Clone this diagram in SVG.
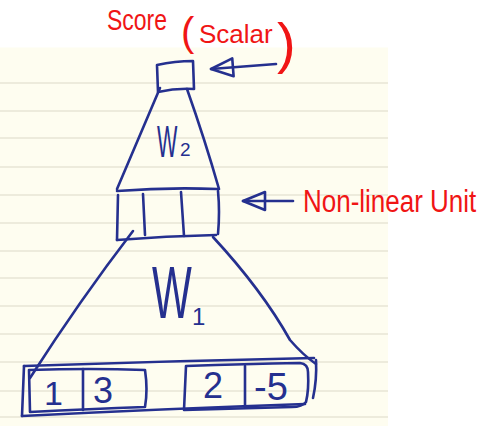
<svg xmlns="http://www.w3.org/2000/svg" width="482" height="426" viewBox="0 0 482 426">
  <defs>
    <style>
      .ink { fill: none; stroke: #25308f; stroke-width: 2.6; stroke-linecap: round; stroke-linejoin: round; }
      .rule { stroke: #e7e5d6; stroke-width: 1.6; }
      .blue { fill: #25308f; font-family: "Liberation Sans", Arial, sans-serif; }
      .red { fill: #f01515; font-family: "Liberation Sans", Arial, sans-serif; }
    </style>
    <marker id="openhead" markerUnits="userSpaceOnUse" markerWidth="28" markerHeight="24" viewBox="0 0 28 24" refX="25" refY="12" orient="auto">
      <path d="M3,3 L25,12 L3,21 Z" fill="none" stroke="#25308f" stroke-width="2.6" stroke-linejoin="round"/>
    </marker>
  </defs>

  <!-- background and lined paper -->
  <rect x="0" y="0" width="482" height="426" fill="#ffffff"/>
  <rect x="0" y="47.5" width="388" height="378.5" fill="#fefdf0"/>
  <g id="paper-rules">
    <line class="rule" x1="0" y1="83" x2="388" y2="83"/>
    <line class="rule" x1="0" y1="111" x2="388" y2="111"/>
    <line class="rule" x1="0" y1="138" x2="388" y2="138"/>
    <line class="rule" x1="0" y1="167" x2="388" y2="167"/>
    <line class="rule" x1="0" y1="195" x2="388" y2="195"/>
    <line class="rule" x1="0" y1="223" x2="388" y2="223"/>
    <line class="rule" x1="0" y1="251" x2="388" y2="251"/>
    <line class="rule" x1="0" y1="278" x2="388" y2="278"/>
    <line class="rule" x1="0" y1="306" x2="388" y2="306"/>
    <line class="rule" x1="0" y1="334" x2="388" y2="334"/>
    <line class="rule" x1="0" y1="362" x2="388" y2="362"/>
    <line class="rule" x1="0" y1="391" x2="388" y2="391"/>
    <line class="rule" x1="0" y1="417" x2="388" y2="417"/>
  </g>

  <!-- score node -->
  <g id="score-box">
    <path class="ink" d="M157,65 Q175,61 193,61 L194,89 Q176,88 158,92 Z"/>
  </g>

  <!-- W2 layer (trapezoid) -->
  <g id="w2-layer">
    <path class="ink" d="M160,88 Q140,135 117,189"/>
    <path class="ink" d="M187,89 Q205,140 219,189"/>
    <text class="blue" font-size="45" transform="translate(157,157) scale(0.48,1)">W</text>
    <text class="blue" font-size="19" x="180" y="156">2</text>
  </g>

  <!-- hidden non-linear layer -->
  <g id="hidden-layer">
    <path class="ink" d="M117,191 Q168,187 218,189"/>
    <path class="ink" d="M118,195 L117,240"/>
    <path class="ink" d="M218,191 Q220,212 218,234"/>
    <path class="ink" d="M117,240 Q166,236 216,235"/>
    <path class="ink" d="M143,194 L145,235"/>
    <path class="ink" d="M181,192 L184,236"/>
  </g>

  <!-- W1 layer (large triangle) -->
  <g id="w1-layer">
    <path class="ink" d="M133,231 Q80,300 30,378"/>
    <path class="ink" d="M213,237 Q262,290 290,340 Q303,355 316,364"/>
    <text class="blue" font-size="74" transform="translate(152,318) scale(0.57,1)">W</text>
    <text class="blue" font-size="24" x="192" y="325">1</text>
  </g>

  <!-- input layer -->
  <g id="input-layer">
    <path class="ink" d="M24,366 Q170,361 314,358"/>
    <path class="ink" d="M24,366 L22,416"/>
    <path class="ink" d="M316,360 Q317,380 313,398"/>
    <path class="ink" d="M22,416 Q160,409 305,404"/>
    <!-- box 1|3 -->
    <path class="ink" d="M29,370 Q90,368 145,370 Q148,390 145,407 Q90,409 30,412 Z"/>
    <path class="ink" d="M83,369 L83,410"/>
    <text class="blue" font-size="34" x="44" y="405">1</text>
    <text class="blue" font-size="36" x="93" y="403">3</text>
    <!-- box 2|-5 -->
    <path class="ink" d="M186,366 Q245,364 300,363 Q308,364 308,372 Q309,390 306,402 Q302,407 292,407 L184,410 Z"/>
    <path class="ink" d="M245,366 L245,407"/>
    <text class="blue" font-size="36" x="203" y="398">2</text>
    <text class="blue" font-size="38" x="254" y="400">-5</text>
  </g>

  <!-- labels -->
  <g id="score-label">
    <text class="red" font-size="23" transform="translate(107,30) scale(1,1.3)">Score</text>
    <text class="red" font-size="40" x="181" y="46">(</text>
    <text class="red" font-size="26" x="199" y="43">Scalar</text>
    <text class="red" font-size="56" x="277" y="62">)</text>
  </g>
  <g id="nonlinear-label">
    <text class="red" font-size="26" transform="translate(303,212) scale(1,1.2)">Non-linear Unit</text>
  </g>

  <!-- connectors -->
  <g id="connectors">
    <path class="ink" d="M276,64 L211,69" marker-end="url(#openhead)"/>
    <path class="ink" d="M293,201 L243,201" marker-end="url(#openhead)"/>
  </g>
</svg>
